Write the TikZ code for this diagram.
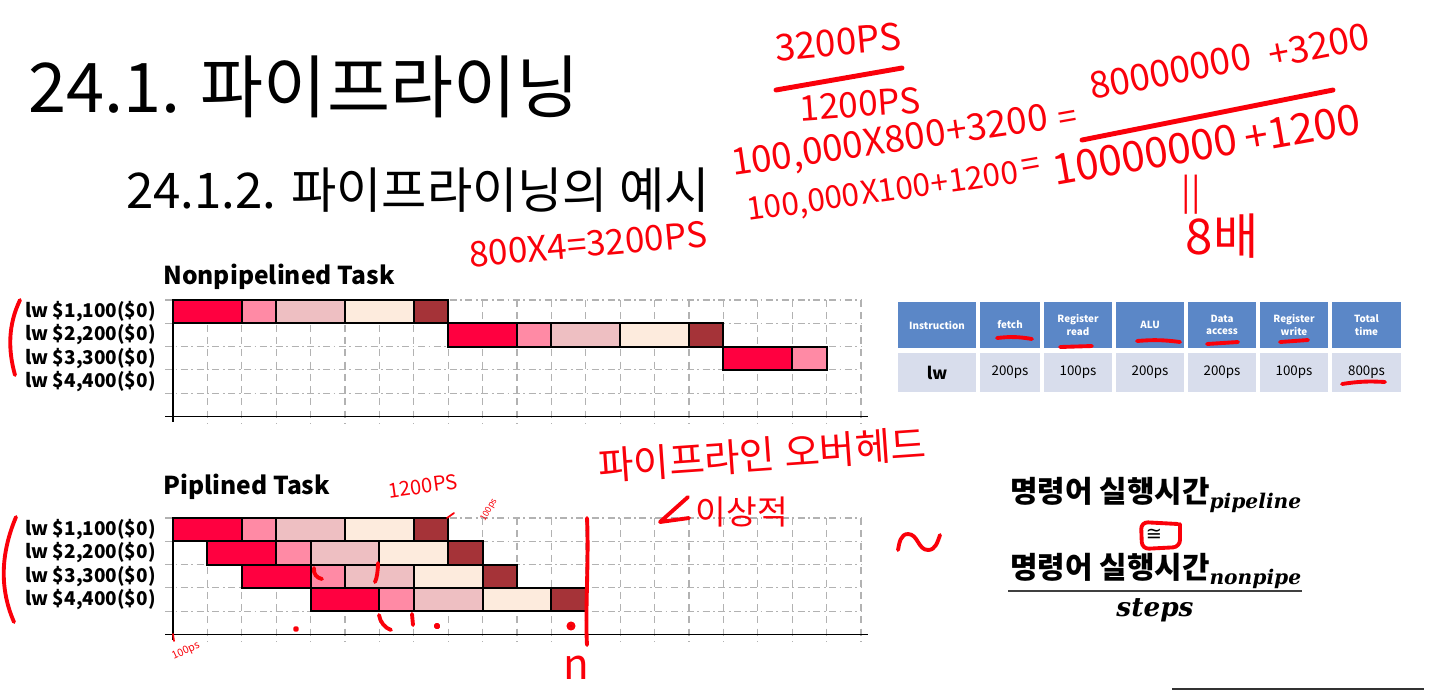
\documentclass[tikz,border=0pt]{standalone}
\usepackage{fontspec}
\setmainfont{Noto Sans CJK KR}
\newfontfamily\eqfont{DejaVu Serif}
\newfontfamily\symfont{DejaVu Sans}
\usetikzlibrary{positioning,calc}

\definecolor{fetchc}{RGB}{255,0,64}
\definecolor{readc}{RGB}{255,138,165}
\definecolor{aluc}{RGB}{238,191,194}
\definecolor{memc}{RGB}{253,235,221}
\definecolor{wbc}{RGB}{165,51,56}
\definecolor{headc}{RGB}{91,135,199}
\definecolor{cellc}{RGB}{216,221,236}
\definecolor{gridc}{RGB}{178,178,178}
\definecolor{ink}{RGB}{250,0,10}

\newcommand{\hf}[1]{\fontsize{#1}{#1}\selectfont}

\newcommand{\stagebar}[3]{%
  \foreach \off/\wid/\col [count=\k] in {0/2/fetchc,2/1/readc,3/2/aluc,5/2/memc,7/1/wbc} {
    \ifnum\k>#3\relax\else
      \draw[stage, fill=\col] ({173+(#1+\off)*34.4},#2) rectangle ++(\wid*34.4,23.3);
    \fi
  }}

\newcommand{\chartgrid}[1]{%
  \foreach \i in {1,...,20}
    \draw[gridv] ({173+\i*34.4},#1) -- ({173+\i*34.4},#1+124);
  \foreach \j in {0,...,4}
    \draw[gridh] (165,{#1+\j*23.3}) -- (861,{#1+\j*23.3});
  \draw[axis] (173,#1) -- (173,#1+122);
  \draw[axis] (165,#1+116.5) -- (868,#1+116.5);}

\begin{document}
\begin{tikzpicture}
  [
  x=0.02cm, y=-0.02cm,
  stage/.style={draw=black, line width=1.1pt},
  gridv/.style={draw=gridc, line width=0.6pt, dash pattern=on 4pt off 3pt},
  gridh/.style={draw=gridc, line width=0.6pt, dash pattern=on 4pt off 2pt on 1pt off 2pt},
  axis/.style={draw=black, line width=0.8pt},
  lbl/.style={anchor=east, inner sep=0pt, font=\hf{10.8}\bfseries},
  charttitle/.style={anchor=west, inner sep=0pt, font=\hf{14}\bfseries},
  headtxt/.style={text=white, align=center, inner sep=0pt, font=\fontsize{5.6}{7}\selectfont\bfseries},
  celltxt/.style={inner sep=0pt, font=\hf{7.6}},
  kor/.style={inner sep=0pt, font=\hf{17}\bfseries},
  ink/.style={draw=ink, line width=2.2pt, line cap=round, line join=round},
  hand/.style={text=ink, inner sep=0pt},
  slope/.style={hand, anchor=base west, rotate=#1}
  ]

  \fill[white] (0,0) rectangle (1429,691);
  \useasboundingbox (0,0) rectangle (1429,691);

  \node[anchor=west, inner sep=0pt, font=\hf{39}] (title) at (28,87) {24.1. 파이프라이닝};
  \node[anchor=west, inner sep=0pt, font=\hf{28}] (subtitle) at (126,190) {24.1.2. 파이프라이닝의 예시};

  \node[charttitle] (nptitle) at (163,277) {Nonpipelined Task};
  \chartgrid{300}
  \foreach \n [count=\r from 0] in {1,2,3,4}
    \node[lbl] (np\n) at (156,{300+(\r+0.5)*23.3}) {lw \$\n,\n00(\$0)};
  \stagebar{0}{300}{5}
  \stagebar{8}{323.3}{5}
  \stagebar{16}{346.6}{2}

  \node[charttitle] (pptitle) at (163,487) {Piplined Task};
  \chartgrid{518}
  \foreach \n [count=\r from 0] in {1,2,3,4}
    \node[lbl] (pp\n) at (156,{518+(\r+0.5)*23.3}) {lw \$\n,\n00(\$0)};
  \stagebar{0}{518}{5}
  \stagebar{1}{541.3}{5}
  \stagebar{2}{564.6}{5}
  \stagebar{4}{587.9}{5}

  \foreach \a/\b/\h/\v [count=\k] in {898/976/Instruction/{\hf{9.5}\bfseries lw},
      980/1040/fetch/200ps, 1044/1112/{Register\\read}/100ps, 1116/1184/ALU/200ps,
      1188/1256/{Data\\access}/200ps, 1260/1328/{Register\\write}/100ps,
      1332/1401/{Total\\time}/800ps} {
    \fill[headc] (\a,302) rectangle (\b,348);
    \fill[cellc] (\a,353) rectangle (\b,392);
    \node[headtxt] (th\k) at ({(\a+\b)/2},325) {\h};
    \node[celltxt] (td\k) at ({(\a+\b)/2},372.5) {\v};
  }

  \node[kor, anchor=west] (tpipe) at (1010,495) {명령어 실행시간\raisebox{-3pt}{\eqfont\hf{11.5}\bfseries\itshape pipeline}};
  \node[inner sep=0pt, font=\symfont\hf{11}] (approx) at (1154,535) {≅};
  \node[kor, anchor=west] (tnon) at (1010,571) {명령어 실행시간\raisebox{-3pt}{\eqfont\hf{11.5}\bfseries\itshape nonpipe}};
  \draw[line width=1pt, draw=black!75] (1008,591) -- (1302,591);
  \node[inner sep=0pt, font=\eqfont\hf{15}\bfseries\itshape] (steps) at (1155,610) {steps};
  \draw[line width=1.2pt, draw=black!80] (1172,689) -- (1424,689);

  % pen notes
  \node[hand, font=\hf{21}, rotate=5] (t3200) at (838,42) {3200PS};
  \draw[ink, line width=2.8pt] (776,90) -- (902,68);
  \node[hand, font=\hf{20}, rotate=4] (t1200) at (860,104) {1200PS};

  \node[slope=8.3, font=\hf{21}] (lhs1a) at (733,176) {100,000};
  \node[slope=8.3, font=\hf{21}] (lhs1b) at (lhs1a.base east) {X800};
  \node[slope=8.3, font=\hf{21}] (lhs1c) at (lhs1b.base east) {+3200};
  \node[hand, font=\hf{19}, rotate=10] (eq1) at (1068,120) {=};
  \node[slope=11, font=\hf{21}] (rhs1a) at (1092,100) {80000000};
  \node[slope=11, font=\hf{21}] (rhs1b) at ([xshift=10]rhs1a.base east) {+3200};
  \draw[ink, line width=2.8pt] (1082,140) -- (1333,90);

  \node[slope=8, font=\hf{18}] (lhs2a) at (748,221) {100,000};
  \node[slope=8, font=\hf{18}] (lhs2b) at (lhs2a.base east) {X100};
  \node[slope=8, font=\hf{18}] (lhs2c) at (lhs2b.base east) {+1200};
  \node[hand, font=\hf{19}, rotate=10] (eq2) at (1031,167) {=};
  \node[slope=10, font=\hf{24}] (rhs2a) at (1055,186) {10000000};
  \node[slope=10, font=\hf{24}] (rhs2b) at ([xshift=4]rhs2a.base east) {+1200};
  \node[hand, font=\hf{20}] (same) at (1191,195) {||};
  \node[hand, font=\hf{28}] (times8) at (1222,236) {8배};
  \node[hand, font=\hf{20}, rotate=5] (calc4) at (588,244) {800X4=3200PS};

  \node[hand, font=\hf{22}, rotate=4] (ovh) at (762,455) {파이프라인 오버헤드};
  \node[hand, font=\hf{19}] (ideal) at (742,512) {이상적};
  \draw[ink] (688,497) -- (660,522) -- (689,518);
  \draw[ink] (898,550) to[out=80,in=180] (908,534) to[out=0,in=180] (928,550) to[out=0,in=250] (940,535);

  \node[hand, font=\hf{11.5}, rotate=8] (t1200b) at (423,486) {1200PS};
  \node[hand, font=\hf{5}, rotate=60] (t100a) at (489,510) {100ps};
  \draw[ink, line width=1pt] (447,518) -- (454,513);
  \node[hand, font=\hf{6}, rotate=25] (t100b) at (186,651) {100ps};
  \draw[ink, line width=1pt] (173,634) -- (174,641);

  \draw[ink] (20,300) .. controls (8,325) and (8,350) .. (15,375);
  \draw[ink] (16,517) .. controls (0,555) and (0,590) .. (14,622);
  \draw[ink] (587,518) .. controls (589,560) and (585,610) .. (587,645);
  \node[hand, font=\hf{24}] (nn) at (576,668) {n};

  \draw[ink] (314,568) .. controls (313,574) and (317,578) .. (322,579);
  \draw[ink] (378,563) .. controls (378,570) and (377,578) .. (375,582);
  \draw[ink] (379,615) .. controls (380,622) and (385,628) .. (391,630);
  \draw[ink] (412,614) -- (413,625);
  \fill[ink] (296,629) circle (1.2) (437,626) circle (1.5) (571,626) circle (2.5);

  \draw[ink] (997,338) to[bend left=8] (1032,339);
  \draw[ink] (1060,347) -- (1092,346);
  \draw[ink] (1137,341) to[bend left=6] (1180,342);
  \draw[ink] (1207,344) -- (1238,342);
  \draw[ink] (1280,342) -- (1308,340);
  \draw[ink] (1342,384) to[bend left=6] (1385,382);
  \draw[ink, rounded corners=4pt] (1178,524) -- (1141,522) -- (1142,549) -- (1180,547) -- (1180,524);
\end{tikzpicture}
\end{document}
